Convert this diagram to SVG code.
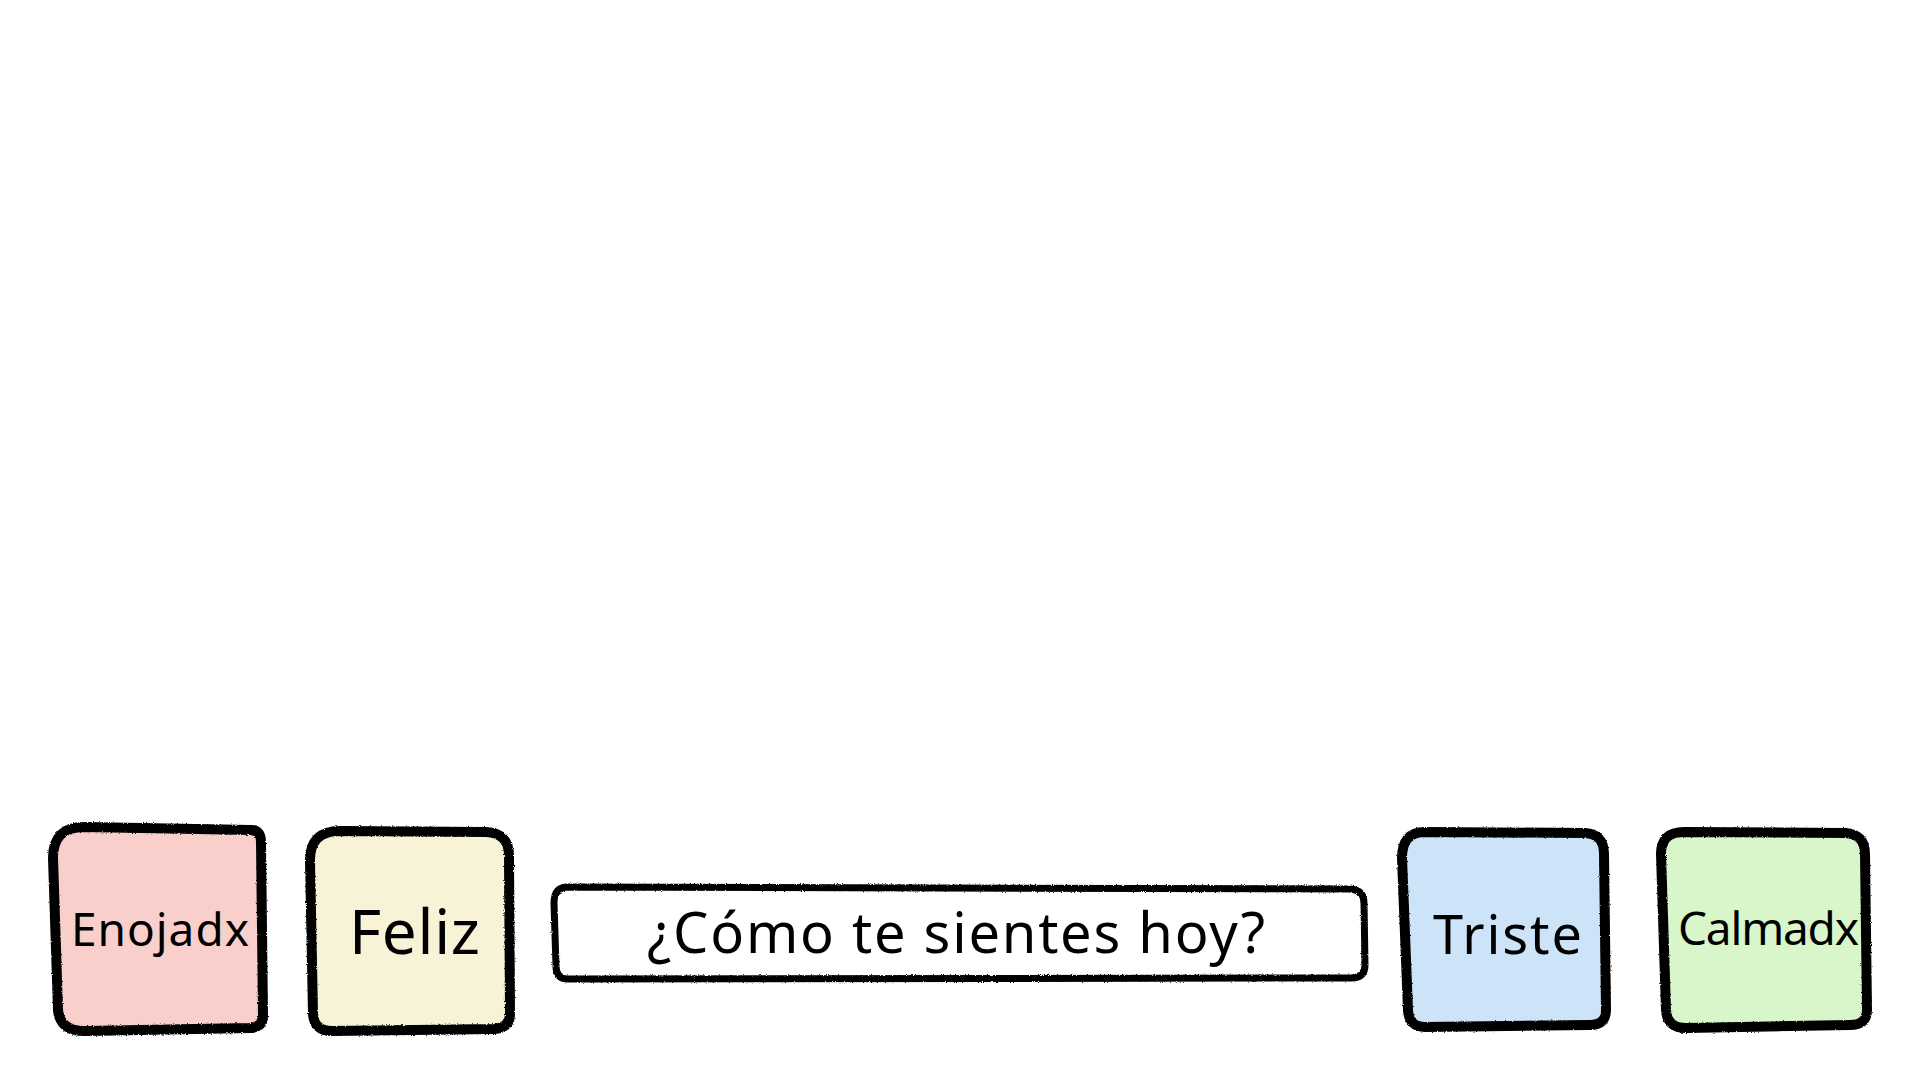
<svg xmlns="http://www.w3.org/2000/svg" width="1920" height="1080" viewBox="0 0 1920 1080">
<defs>
<filter id="rough" x="-5%" y="-5%" width="110%" height="110%">
<feTurbulence type="fractalNoise" baseFrequency="0.9" numOctaves="2" seed="3" result="n"/>
<feDisplacementMap in="SourceGraphic" in2="n" scale="2.5" xChannelSelector="R" yChannelSelector="G"/>
</filter>
<style>
.box{stroke:#000;stroke-width:10;stroke-linejoin:round;filter:url(#rough)}
.bar{stroke:#000;stroke-width:7;stroke-linejoin:round;filter:url(#rough)}
.lbl{font-family:"Noto Sans","Liberation Sans",sans-serif;fill:#000;text-anchor:start}
</style>
</defs>
<rect width="1920" height="1080" fill="#fff"/>
<g id="enojadx">
<path class="box" fill="#f8cfcb" d="M84,827 L252,830 Q261,831 261,842 L263,1016 Q263,1027 250,1028 L86,1031 Q60,1032 58,1010 L53,858 Q53,827 84,827 Z"/>
<text class="lbl" x="71" y="946" font-size="46" textLength="178" lengthAdjust="spacing">Enojadx</text>
</g>
<g id="feliz">
<path class="box" fill="#f8f3d6" d="M340,831 L486,832 Q509,833 509,856 L510,1014 Q510,1028 494,1029 L332,1031 Q314,1031 313,1014 L310,860 Q310,831 340,831 Z"/>
<text class="lbl" x="349" y="954" font-size="62" textLength="131" lengthAdjust="spacing">Feliz</text>
</g>
<g id="pregunta">
<path class="box bar" fill="#fff" d="M568,887 L1350,889 Q1364,890 1364,903 L1365,965 Q1365,978 1351,978 L568,979 Q556,979 556,966 L554,903 Q554,887 568,887 Z"/>
<text class="lbl" x="647" y="953" font-size="56" textLength="618" lengthAdjust="spacing">¿Cómo te sientes hoy?</text>
</g>
<g id="triste">
<path class="box" fill="#cce3f8" d="M1425,832 L1585,833 Q1604,834 1604,854 L1606,1010 Q1606,1025 1590,1025 L1425,1027 Q1409,1027 1408,1010 L1402,858 Q1402,832 1425,832 Z"/>
<text class="lbl" x="1433" y="954" font-size="54" textLength="149" lengthAdjust="spacing">Triste</text>
</g>
<g id="calmadx">
<path class="box" fill="#d8f6c9" d="M1684,832 L1845,833 Q1865,834 1865,854 L1867,1010 Q1867,1025 1850,1025 L1686,1028 Q1667,1028 1666,1010 L1661,854 Q1661,832 1684,832 Z"/>
<text class="lbl" x="1678" y="945" font-size="46" textLength="181" lengthAdjust="spacing">Calmadx</text>
</g>
<g id="connectors"/>
</svg>
